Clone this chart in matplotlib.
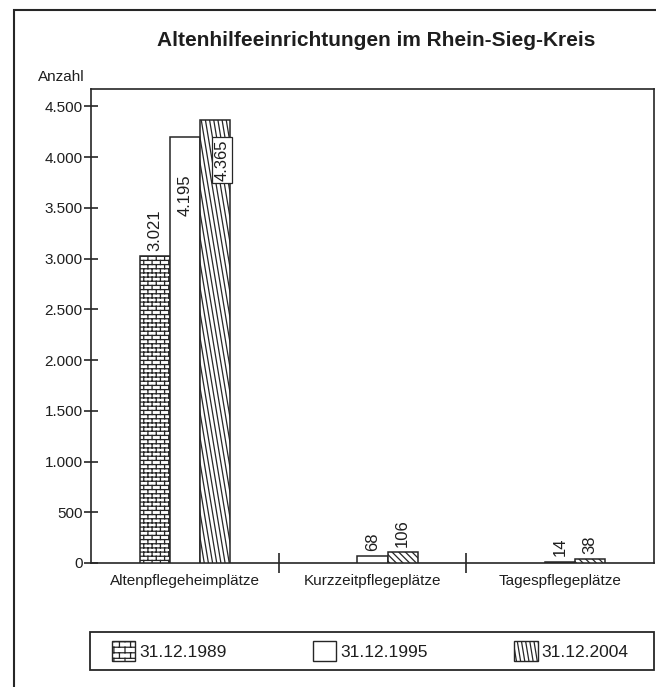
import numpy as np
import matplotlib
matplotlib.use('Agg')
import matplotlib.pyplot as plt
import matplotlib.hatch as mhatch
from matplotlib.path import Path
from matplotlib.patches import Rectangle, Patch

# ---------------- data ----------------
categories = ['Altenpflegeheimplätze', 'Kurzzeitpflegeplätze', 'Tagespflegeplätze']
series_labels = ['31.12.1989', '31.12.1995', '31.12.2004']
values_1989 = [3021, np.nan, np.nan]
values_1995 = [4195, 68, 14]
values_2004 = [4365, 106, 38]
y_ticks = [0, 500, 1000, 1500, 2000, 2500, 3000, 3500, 4000, 4500]
y_tick_labels = ['0', '500', '1.000', '1.500', '2.000', '2.500', '3.000', '3.500', '4.000', '4.500']
title = 'Altenhilfeeinrichtungen im Rhein-Sieg-Kreis'
y_label = 'Anzahl'


# ---------------- custom hatches ----------------
class BrickHatch(mhatch.HatchPatternBase):
    def __init__(self, hatch, density):
        n = hatch.count('b')
        self.rows = int(n * density)
        self.cols = max(self.rows // 2, 1)
        if n:
            self.num_vertices = self.rows * 2 + (self.rows + 1) * self.cols * 2
        else:
            self.num_vertices = 0

    def set_vertices_and_codes(self, vertices, codes):
        R, C = self.rows, self.cols
        k = 0
        for r in range(R):
            y = (r + 0.5) / R
            vertices[k] = (0.0, y)
            vertices[k + 1] = (1.0, y)
            k += 2
        for r in range(-1, R):
            y0, y1 = (r + 0.5) / R, (r + 1.5) / R
            shift = 0.5 / C if r % 2 else 0.0
            for c in range(C):
                x = c / C + shift + 0.25 / C
                vertices[k] = (x, y0)
                vertices[k + 1] = (x, y1)
                k += 2
        codes[0::2] = Path.MOVETO
        codes[1::2] = Path.LINETO


class SteepHatch(mhatch.HatchPatternBase):
    def __init__(self, hatch, density):
        n = hatch.count('k')
        self.N = int(n * density)
        self.s = 4
        self.num_vertices = (self.N + self.s) * 2 if n else 0

    def set_vertices_and_codes(self, vertices, codes):
        N, s = self.N, self.s
        i = np.arange(-s, N)
        vertices[0::2, 0] = (i + 0.5) / N
        vertices[0::2, 1] = 1.0
        vertices[1::2, 0] = (i + 0.5 + s) / N
        vertices[1::2, 1] = 0.0
        codes[0::2] = Path.MOVETO
        codes[1::2] = Path.LINETO


mhatch._hatch_types.append(BrickHatch)
mhatch._hatch_types.append(SteepHatch)
mhatch._validate_hatch_pattern = lambda h: None

plt.rcParams['font.family'] = ['Liberation Sans', 'DejaVu Sans']
plt.rcParams['hatch.linewidth'] = 0.9

W, H = 656, 687
fig = plt.figure(figsize=(W / 100, H / 100), dpi=100)
ax = fig.add_axes([91 / W, 1 - 563 / H, (654 - 91) / W, (563 - 89) / H])

text_col = '#1e1e1e'
line_col = '#262626'

x = np.arange(len(categories))
bw = 0.16
series = [values_1989, values_1995, values_2004]
offsets = [-bw, 0.0, bw]
base_hatches = ['bbbb', None, 'kkkk']

ax.set_xlim(-0.5, 2.5)
ax.set_ylim(0, 4670)

for si, (vals, off, hh) in enumerate(zip(series, offsets, base_hatches)):
    bars = ax.bar(x + off, vals, width=bw, facecolor='white', edgecolor=line_col,
                  linewidth=1.1, label=series_labels[si], zorder=3)
    for rect, v in zip(bars, vals):
        if hh is None:
            continue
        if hh.startswith('k') and v < 1000:
            rect.set_hatch('\\' * 5)
        else:
            rect.set_hatch(hh)

# value labels
ymax = ax.get_ylim()[1]
for si, (vals, off) in enumerate(zip(series, offsets)):
    for xi, v in zip(x + off, vals):
        if np.isnan(v):
            continue
        txt = f'{v:,.0f}'.replace(',', '.')
        if v + 600 < ymax:
            ax.annotate(txt, (xi, v), xytext=(0, 4), textcoords='offset points',
                        rotation=90, ha='center', va='bottom', fontsize=12,
                        color=text_col, zorder=5)
        elif si == 2:
            ax.annotate(txt, (xi, v), xytext=(5, -14), textcoords='offset points',
                        rotation=90, ha='center', va='top', fontsize=12,
                        color=text_col, zorder=5,
                        bbox=dict(boxstyle='square,pad=0.15', fc='white',
                                  ec=line_col, lw=0.9))
        else:
            ax.annotate(txt, (xi, v), xytext=(0, -27), textcoords='offset points',
                        rotation=90, ha='center', va='top', fontsize=12,
                        color=text_col, zorder=5)

# axes styling
for sp in ax.spines.values():
    sp.set_color(line_col)
    sp.set_linewidth(1.2)

ax.set_yticks(y_ticks)
ax.set_yticklabels(y_tick_labels)
ax.tick_params(axis='y', direction='inout', length=10, width=1.2, color=line_col,
               labelsize=11, labelcolor=text_col, pad=1)

ax.set_xticks(x)
ax.set_xticklabels(categories)
ax.set_xticks([0.5, 1.5], minor=True)
ax.tick_params(axis='x', which='major', length=0, labelsize=11, labelcolor=text_col, pad=8)
ax.tick_params(axis='x', which='minor', direction='inout', length=14, width=1.2,
               color=line_col)

# titles
fig.text(376 / W, 1 - 41 / H, title, ha='center', va='center', fontsize=15,
         fontweight='bold', color=text_col)
fig.text(38 / W, 1 - 77 / H, y_label, ha='left', va='center', fontsize=11,
         color=text_col)

# outer frame
fig.add_artist(Rectangle((14 / W, -0.05), 1.2, 1.05 - 10 / H, transform=fig.transFigure,
                         fill=False, ec=line_col, lw=1.5, clip_on=False))

# legend
fig.add_artist(Rectangle((90 / W, 1 - 670 / H), (654 - 90) / W, 38 / H,
                         transform=fig.transFigure, fill=False, ec=line_col, lw=1.3))
handles = [Patch(facecolor='white', edgecolor=line_col, hatch='bbb', lw=1.0),
           Patch(facecolor='white', edgecolor=line_col, lw=1.0),
           Patch(facecolor='white', edgecolor=line_col, hatch='kkkk', lw=1.0)]
fig.legend(handles, series_labels, loc='center',
           bbox_to_anchor=(112 / W, 1 - 670 / H, (628 - 112) / W, 38 / H),
           mode='expand', ncol=3, frameon=False, fontsize=12.5,
           handlelength=1.35, handleheight=1.35, handletextpad=0.2,
           borderpad=0, borderaxespad=0, labelcolor=text_col)

fig.savefig('out.png', dpi=100)
